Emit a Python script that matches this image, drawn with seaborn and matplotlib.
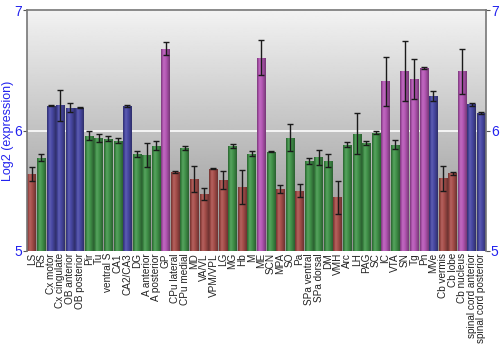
import numpy as np
import pandas as pd
import matplotlib
matplotlib.use("Agg")
import matplotlib.pyplot as plt
import matplotlib.colors as mcolors
import seaborn as sns

regions = ["LS", "RS", "Cx motor", "Cx cingulate", "OB anterior", "OB posterior",
           "Pir", "Tu", "ventral S", "CA1", "CA2/CA3", "DG", "A anterior",
           "A posterior", "GP", "CPu lateral", "CPu medial", "MD", "VA/VL",
           "VPM/VPL", "LG", "MG", "Hb", "M", "ME", "SCN", "MPA", "SO", "Pa",
           "SPa ventral", "SPa dorsal", "DM", "VMH", "Arc", "LH", "PAG", "SC",
           "IC", "VTA", "SN", "Tg", "Pn", "MVe", "Cb vermis", "Cb lobe",
           "Cb nucleus", "spinal cord anterior", "spinal cord posterior"]

expression = [5.64, 5.775, 6.206, 6.21, 6.19, 6.19,
              5.958, 5.94, 5.933, 5.917, 6.203, 5.806, 5.794,
              5.875, 6.68, 5.653, 5.853, 5.597, 5.472,
              5.683, 5.589, 5.872, 5.533, 5.806, 6.606, 5.825, 5.514, 5.942, 5.50,
              5.75, 5.78, 5.75, 5.444, 5.883, 5.975, 5.897, 5.983,
              6.408, 5.883, 6.494, 6.428, 6.517, 6.289, 5.603, 5.644,
              6.492, 6.219, 6.147]

error = [0.055, 0.03, 0.005, 0.13, 0.035, 0.005,
         0.035, 0.035, 0.02, 0.022, 0.008, 0.026, 0.10,
         0.04, 0.055, 0.008, 0.017, 0.105, 0.05,
         0.005, 0.075, 0.017, 0.14, 0.02, 0.145, 0.003, 0.03, 0.112, 0.052,
         0.024, 0.062, 0.055, 0.133, 0.022, 0.173, 0.02, 0.01,
         0.20, 0.037, 0.25, 0.165, 0.008, 0.042, 0.105, 0.014,
         0.187, 0.011, 0.006]

group = ["r", "g", "b", "b", "b", "b",
         "g", "g", "g", "g", "b", "g", "g",
         "g", "m", "r", "g", "r", "r",
         "r", "r", "g", "r", "g", "m", "g", "r", "g", "r",
         "g", "g", "g", "r", "g", "g", "g", "g",
         "m", "g", "m", "m", "m", "b", "r", "r",
         "m", "b", "b"]

palette = {"r": "#b8413c", "g": "#35a340", "b": "#3a3ab5", "m": "#c648c6"}

df = pd.DataFrame({"region": regions, "expr": expression, "err": error, "grp": group})

fig = plt.figure(figsize=(5, 3.5), dpi=100)
ax = fig.add_axes([0.054, 0.283, 0.918, 0.688])

BASE = 5.0
TOP = 7.0

# vertical grey background gradient
bg = np.linspace(0.95, 0.57, 256).reshape(-1, 1)
ax.imshow(bg, cmap="gray", vmin=0, vmax=1, aspect="auto",
          extent=(-0.5, len(regions) - 0.5, BASE, TOP), origin="upper", zorder=0)

sns.barplot(data=df, x="region", y="expr", hue="grp", palette=palette,
            dodge=False, legend=False, width=0.9, errorbar=None, ax=ax,
            order=regions, zorder=2)

# shaded cylinder look for every bar
profile_x = np.array([0.0, 0.3, 0.55, 1.0])
profile_v = np.array([0.66, 1.12, 1.0, 0.64])
xs = np.linspace(0, 1, 64)
shade = np.interp(xs, profile_x, profile_v)
for patch in list(ax.patches):
    h = patch.get_height()
    if h <= 0:
        continue
    x0 = patch.get_x()
    w = patch.get_width()
    rgb = np.array(mcolors.to_rgb(patch.get_facecolor()))
    row = np.empty((1, len(xs), 3))
    for i, s in enumerate(shade):
        if s <= 1:
            row[0, i] = rgb * s
        else:
            row[0, i] = rgb + (1 - rgb) * (s - 1)
    img = ax.imshow(np.clip(row, 0, 1), aspect="auto",
                    extent=(x0, x0 + w, BASE, h), zorder=2.5)
    img.set_clip_path(patch)
    patch.set_facecolor("none")
    patch.set_edgecolor("none")

pos = np.arange(len(regions))
ax.errorbar(pos, df["expr"], yerr=df["err"], fmt="none", ecolor="#1a1a1a",
            elinewidth=1.0, capsize=2.2, capthick=1.0, zorder=4)

ax.axhline(6, color="white", lw=1.3, alpha=0.9, zorder=1)

ax.set_xlim(-0.5, len(regions) - 0.5)
ax.set_ylim(BASE, TOP)
ax.set_yticks([5, 6, 7])
ax.set_xlabel("")
ax.set_ylabel("Log2 (expression)", color="#2222ee", fontsize=9,
              family="Liberation Sans")
ax.yaxis.set_label_coords(-0.029, 0.5)

ax.set_xticks(pos)
ax.set_xticklabels(regions, rotation=90, fontsize=7.2, color="#222222",
                   family="Liberation Sans")
ax.tick_params(axis="x", length=0, pad=1.5)
ax.tick_params(axis="y", length=3, color="#555555", labelcolor="#2222ee",
               labelsize=10, pad=0.5, left=True, right=True,
               labelleft=True, labelright=True)
for lab in ax.get_yticklabels():
    lab.set_family("Liberation Sans")

for side in ["left", "top", "right"]:
    ax.spines[side].set_color("#777777")
    ax.spines[side].set_linewidth(1.2)
ax.spines["bottom"].set_visible(False)

fig.savefig("out.png", dpi=100)
